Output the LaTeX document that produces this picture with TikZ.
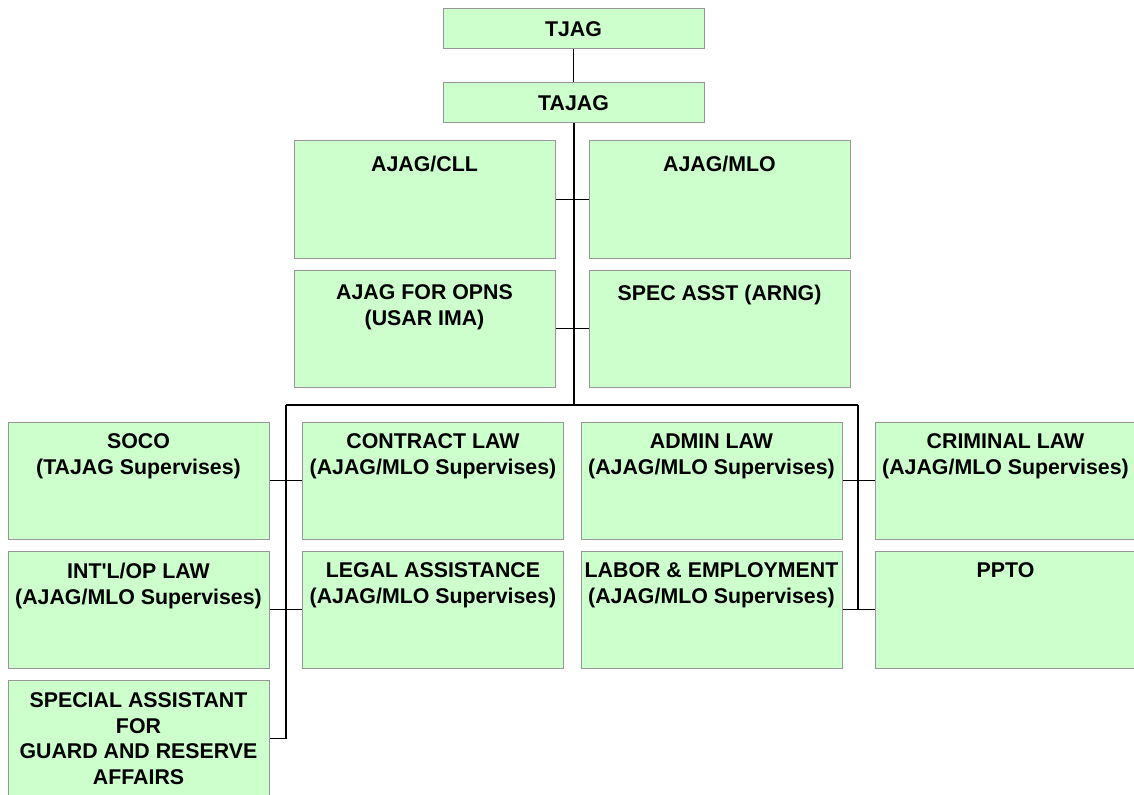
\documentclass[tikz,border=0pt]{standalone}
\usepackage{fontspec}
\newfontfamily\arialfont{Liberation Sans}
\definecolor{boxgreen}{HTML}{CCFFCC}
\definecolor{boxedge}{HTML}{969696}
\newcommand\toptext[3]{\parbox[c][#1][t]{195.75pt}{\centering\vspace*{#2}#3\par}}
\begin{document}
\begin{tikzpicture}[x=0.75pt,y=-0.75pt,
  orgbox/.style={draw=boxedge, fill=boxgreen, line width=0.75pt, inner sep=0pt,
    font=\arialfont\bfseries\fontsize{16}{19.2}\selectfont},
  stub/.style={line width=0.75pt, draw=black},
  trunk/.style={line width=1.5pt, draw=black}]
\useasboundingbox (0,0) rectangle (1134,795);

% top
\node[orgbox, minimum width=195.75pt, minimum height=30pt] (tjag) at (573.5,29) {TJAG};
\node[orgbox, minimum width=195.75pt, minimum height=30pt] (tajag) at (573.5,103) {TAJAG};

% middle
\node[orgbox] (cll)  at (424.5,199.5) {\toptext{87.75pt}{11pt}{AJAG/CLL}};
\node[orgbox] (mlo)  at (719.5,199.5) {\toptext{87.75pt}{11pt}{AJAG/MLO}};
\node[orgbox] (opns) at (424.5,328.5) {\toptext{87.75pt}{11pt}{AJAG FOR OPNS\\(USAR IMA)}};
\node[orgbox] (arng) at (719.5,328.5) {\toptext{87.75pt}{11pt}{SPEC ASST (ARNG)}};

% rows
\node[orgbox] (soco)     at (138.5,480.5) {\toptext{87.75pt}{9pt}{SOCO\\(TAJAG Supervises)}};
\node[orgbox] (contract) at (433,480.5)   {\toptext{87.75pt}{9pt}{CONTRACT LAW\\(AJAG/MLO Supervises)}};
\node[orgbox] (admin)    at (711.5,480.5) {\toptext{87.75pt}{9pt}{ADMIN LAW\\(AJAG/MLO Supervises)}};
\node[orgbox] (criminal) at (1005.5,480.5){\toptext{87.75pt}{9pt}{CRIMINAL LAW\\(AJAG/MLO Supervises)}};

\node[orgbox] (intl)  at (138.5,609.5) {\toptext{87.75pt}{9pt}{INT'L/OP LAW\\(AJAG/MLO Supervises)}};
\node[orgbox] (legal) at (433,609.5)   {\toptext{87.75pt}{9pt}{LEGAL ASSISTANCE\\(AJAG/MLO Supervises)}};
\node[orgbox] (labor) at (711.5,609.5) {\toptext{87.75pt}{9pt}{LABOR \& EMPLOYMENT\\(AJAG/MLO Supervises)}};
\node[orgbox] (ppto)  at (1005.5,609.5){\toptext{87.75pt}{9pt}{PPTO}};

\node[orgbox] (spec) at (138.5,738.5) {\toptext{87.75pt}{9.5pt}{SPECIAL ASSISTANT\\FOR\\GUARD AND RESERVE\\AFFAIRS}};

% coordinates
\coordinate (hub) at (573.5,405);
\coordinate (lt) at (286,405);
\coordinate (rt) at (858,405);
\coordinate (lb) at (286,738.5);
\coordinate (rb) at (858,609.5);

% connectors
\draw[stub] (tjag) -- (tajag);
\draw[trunk] (tajag.south) -- (hub);
\draw[trunk] (lt) -- (rt);
\draw[trunk] (lt) -- (lb);
\draw[trunk] (rt) -- (rb);
\draw[stub] (cll.east) -- (mlo.west);
\draw[stub] (opns.east) -- (arng.west);
\draw[stub] (soco.east) -- (contract.west);
\draw[stub] (intl.east) -- (legal.west);
\draw[stub] (spec.east) -- (lb);
\draw[stub] (admin.east) -- (criminal.west);
\draw[stub] (labor.east) -- (ppto.west);
\end{tikzpicture}
\end{document}
